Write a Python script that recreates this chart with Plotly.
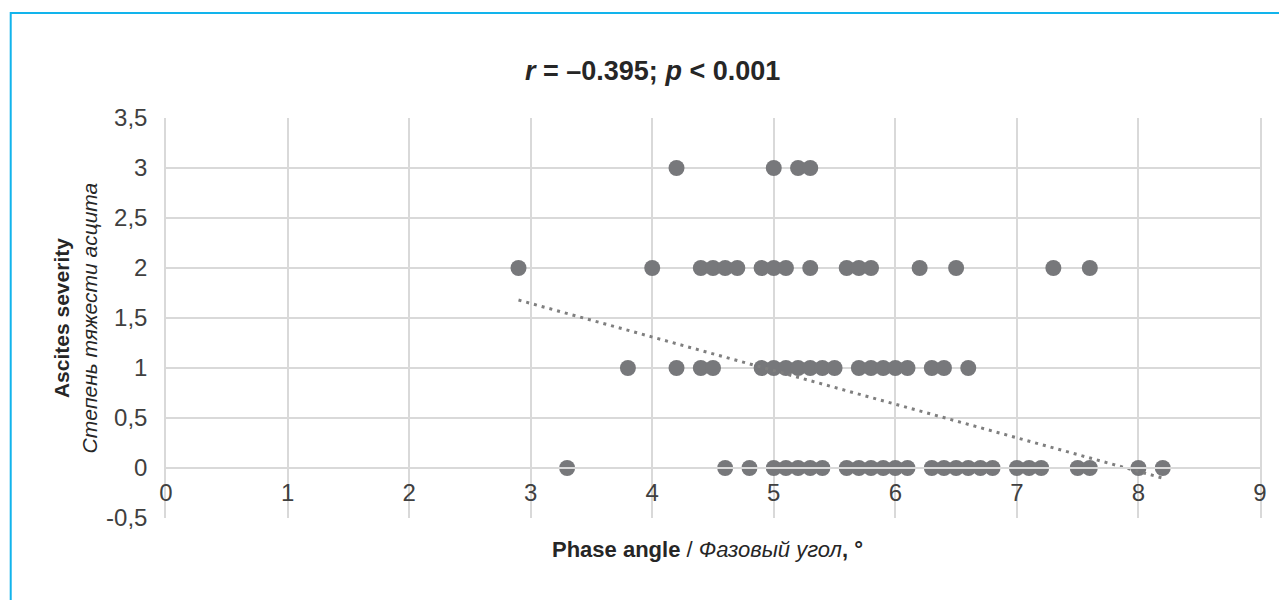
import plotly.graph_objects as go

# Phase angle (°) of patients, grouped by ascites severity grade
phase_grade3 = [4.2, 5.0, 5.2, 5.3]
phase_grade2 = [2.9, 4.0, 4.4, 4.5, 4.6, 4.7, 4.9, 5.0, 5.1, 5.3, 5.6, 5.7, 5.8,
                6.2, 6.5, 7.3, 7.6]
phase_grade1 = [3.8, 4.2, 4.4, 4.5, 4.9, 5.0, 5.1, 5.2, 5.3, 5.4, 5.5, 5.7, 5.8,
                5.9, 6.0, 6.1, 6.3, 6.4, 6.6]
phase_grade0 = [3.3, 4.6, 4.8, 5.0, 5.1, 5.2, 5.3, 5.4, 5.6, 5.7, 5.8, 5.9, 6.0,
                6.1, 6.3, 6.4, 6.5, 6.6, 6.7, 6.8, 7.0, 7.1, 7.2, 7.5, 7.6, 8.0, 8.2]

# Linear trend line (severity = slope * phase angle + intercept)
trend_slope = -0.336
trend_intercept = 2.654

y_tickvals = [-0.5, 0, 0.5, 1, 1.5, 2, 2.5, 3, 3.5]
y_ticktext = ["-0,5", "0", "0,5", "1", "1,5", "2", "2,5", "3", "3,5"]
x_tickvals = [0, 1, 2, 3, 4, 5, 6, 7, 8, 9]

x_all = phase_grade3 + phase_grade2 + phase_grade1 + phase_grade0
y_all = ([3] * len(phase_grade3) + [2] * len(phase_grade2)
         + [1] * len(phase_grade1) + [0] * len(phase_grade0))

trend_x = [min(x_all), max(x_all)]
trend_y = [trend_slope * v + trend_intercept for v in trend_x]

W, H = 1279, 600
ML, MR, MT, MB = 166, 14, 118, 82
PW, PH = W - ML - MR, H - MT - MB


def px2x(px):
    return (px - ML) / PW


def py2y(py):
    return (H - MB - py) / PH


FONT = "Liberation Sans, Arial, sans-serif"
GRID = "#d9d9d9"

fig = go.Figure()
fig.add_trace(go.Scatter(
    x=x_all, y=y_all, mode="markers",
    marker=dict(size=16, color="#77787b", line=dict(width=0)),
    showlegend=False, hoverinfo="x+y",
))
fig.add_trace(go.Scatter(
    x=trend_x, y=trend_y, mode="lines",
    line=dict(color="#7f7f7f", width=3, dash="3px,5px"),
    showlegend=False, hoverinfo="skip",
))

y_min, y_max = -0.5, 3.5

fig.update_layout(
    width=W, height=H,
    margin=dict(l=ML, r=MR, t=MT, b=MB),
    paper_bgcolor="white", plot_bgcolor="white",
    font=dict(family=FONT, color="#404040"),
    xaxis=dict(
        range=[0, 9], tickvals=x_tickvals,
        showgrid=True, gridcolor=GRID, gridwidth=1.5,
        zeroline=False, showline=True, linecolor=GRID, linewidth=1.5, mirror=True,
        ticks="", tickfont=dict(size=24, color="#404040"),
        anchor="free", position=(0 - y_min) / (y_max - y_min),
        ticklabelstandoff=3,
        fixedrange=True,
    ),
    yaxis=dict(
        range=[y_min, y_max], tickvals=y_tickvals, ticktext=y_ticktext,
        showgrid=True, gridcolor=GRID, gridwidth=1.5,
        zeroline=False, showline=True, linecolor=GRID, linewidth=1.5, mirror=True,
        ticks="", tickfont=dict(size=24, color="#404040"),
        ticklabelstandoff=12,
        fixedrange=True,
    ),
    shapes=[dict(
        type="rect", xref="paper", yref="paper",
        x0=px2x(10), x1=px2x(W + 20), y0=py2y(H + 20), y1=py2y(13),
        line=dict(color="#12b4ec", width=2), fillcolor="rgba(0,0,0,0)",
        layer="below",
    )],
    annotations=[
        dict(
            text="<b><i>r</i> = –0.395; <i>p</i> &lt; 0.001</b>",
            xref="paper", yref="paper", x=px2x(655), y=py2y(71),
            xanchor="center", yanchor="middle", showarrow=False,
            font=dict(size=27, color="#262626", family=FONT),
        ),
        dict(
            text="<b>Phase angle</b> / <i>Фазовый угол</i><b>, °</b>",
            xref="paper", yref="paper", x=px2x(710), y=py2y(549),
            xanchor="center", yanchor="middle", showarrow=False,
            font=dict(size=22, color="#262626", family=FONT),
        ),
        dict(
            text="<b>Ascites severity</b><br><i>Степень тяжести асцита</i>",
            xref="paper", yref="paper", x=px2x(75), y=py2y(318),
            xanchor="center", yanchor="middle", showarrow=False, textangle=-90,
            font=dict(size=21, color="#262626", family=FONT),
        ),
    ],
)

fig.write_html("out.html")
